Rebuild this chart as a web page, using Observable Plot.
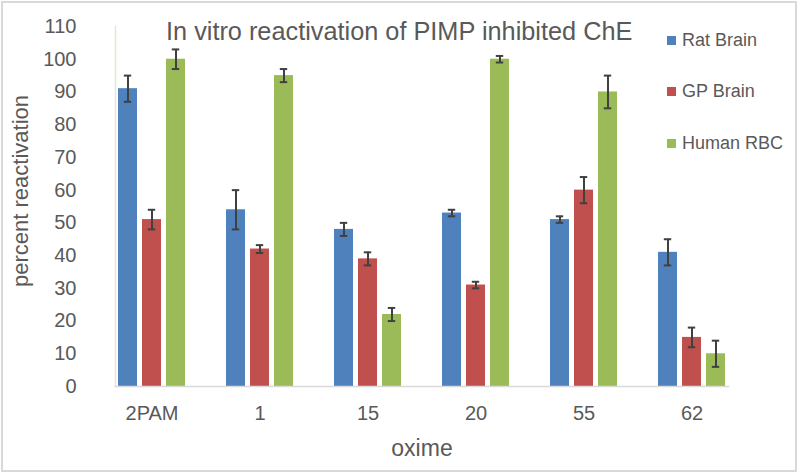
<!DOCTYPE html>
<html>
<head>
<meta charset="utf-8">
<script src="https://cdn.jsdelivr.net/npm/d3@7"></script>
<script src="https://cdn.jsdelivr.net/npm/@observablehq/plot@0.6"></script>
<style>
  body { margin: 0; background: #fff; }
  #wrap { position: relative; width: 800px; height: 473px; overflow: hidden; background: #fff;
          font-family: "Liberation Sans", Arial, sans-serif; color: #595959; }
  #border { position: absolute; left: 1px; top: 1px; right: 3px; bottom: 1px;
            border: 2px solid #d9d9d9; pointer-events: none; }
  #title { position: absolute; left: 166px; top: 19px; font-size: 25.3px; line-height: 25px; white-space: nowrap; }
  #ylabel { position: absolute; left: 0; top: 0; width: 300px; text-align: center; font-size: 22px; line-height: 22px;
            white-space: nowrap; transform-origin: 0 0; transform: translate(10px, 341px) rotate(-90deg); }
  #legend { position: absolute; left: 667px; top: 28px; font-size: 18px; }
  .item { display: flex; align-items: center; height: 24px; margin-bottom: 27.7px; white-space: nowrap; }
  .sw { width: 9px; height: 9px; margin-right: 6px; }
  #chart svg { position: absolute; left: 0; top: 0; }
  g[aria-label="fx-axis label"] text { font-size: 23px; }
</style>
</head>
<body>
<div id="wrap">
  <div id="chart"></div>
  <div id="title">In vitro reactivation of PIMP inhibited ChE</div>
  <div id="ylabel">percent reactivation</div>
  <div id="legend"></div>
  <div id="border"></div>
</div>
<script>
// ---- data ----
const categories = ["2PAM", "1", "15", "20", "55", "62"];
const series = ["Rat Brain", "GP Brain", "Human RBC"];
const colors = ["#4F81BD", "#C0504D", "#9BBB59"];
const ratBrain = [91, 54, 48, 53, 51, 41];
const ratBrainErr = [4, 6, 2, 1, 1, 4];
const gpBrain = [51, 42, 39, 31, 60, 15];
const gpBrainErr = [3, 1.2, 2, 1, 4, 3];
const humanRBC = [100, 95, 22, 100, 90, 10];
const humanRBCErr = [3, 2, 2, 1, 5, 4];
const yTicks = [0, 10, 20, 30, 40, 50, 60, 70, 80, 90, 100, 110];

const values = [ratBrain, gpBrain, humanRBC];
const errors = [ratBrainErr, gpBrainErr, humanRBCErr];
const rows = [];
categories.forEach((c, i) => {
  series.forEach((s, j) => {
    rows.push({oxime: c, series: s, value: values[j][i], err: errors[j][i]});
  });
});

const plot = Plot.plot({
  width: 800,
  height: 473,
  marginLeft: 95,
  marginRight: 52,
  marginTop: 26,
  marginBottom: 87,
  style: {fontFamily: '"Liberation Sans", Arial, sans-serif', fontSize: "20px", color: "#595959", background: "transparent"},
  fx: {domain: categories, paddingInner: 0.325, paddingOuter: 0.1625},
  x: {domain: series, paddingInner: 0.2, paddingOuter: 0.1, axis: null},
  y: {domain: [0, 110]},
  color: {domain: series, range: colors},
  marks: [
    Plot.frame({anchor: "left", facet: "super", stroke: "#e9e4d8", strokeWidth: 1.5}),
    Plot.barY(rows, {fx: "oxime", x: "series", y: "value", fill: "series"}),
    Plot.frame({anchor: "bottom", facet: "super", stroke: "#d9d9d9", strokeWidth: 1.5}),
    Plot.ruleX(rows, {fx: "oxime", x: "series", y1: d => d.value - d.err, y2: d => d.value + d.err, stroke: "#404040", strokeWidth: 2}),
    Plot.tickY(rows, {fx: "oxime", x: "series", y: d => d.value - d.err, stroke: "#404040", strokeWidth: 2, insetLeft: 5.8, insetRight: 5.8}),
    Plot.tickY(rows, {fx: "oxime", x: "series", y: d => d.value + d.err, stroke: "#404040", strokeWidth: 2, insetLeft: 5.8, insetRight: 5.8}),
    Plot.axisY({ticks: yTicks, tickSize: 0, tickPadding: 19, dx: -20, fontSize: 20, label: null}),
    Plot.axisFx({anchor: "bottom", tickSize: 0, tickPadding: 19, fontSize: 20, label: "oxime", labelAnchor: "center", labelOffset: 69, labelArrow: "none"})
  ]
});
document.getElementById("chart").appendChild(plot);

const legend = document.getElementById("legend");
series.forEach((s, j) => {
  const item = document.createElement("div");
  item.className = "item";
  const sw = document.createElement("div");
  sw.className = "sw";
  sw.style.background = colors[j];
  const t = document.createElement("span");
  t.textContent = s;
  item.appendChild(sw);
  item.appendChild(t);
  legend.appendChild(item);
});
</script>
</body>
</html>
